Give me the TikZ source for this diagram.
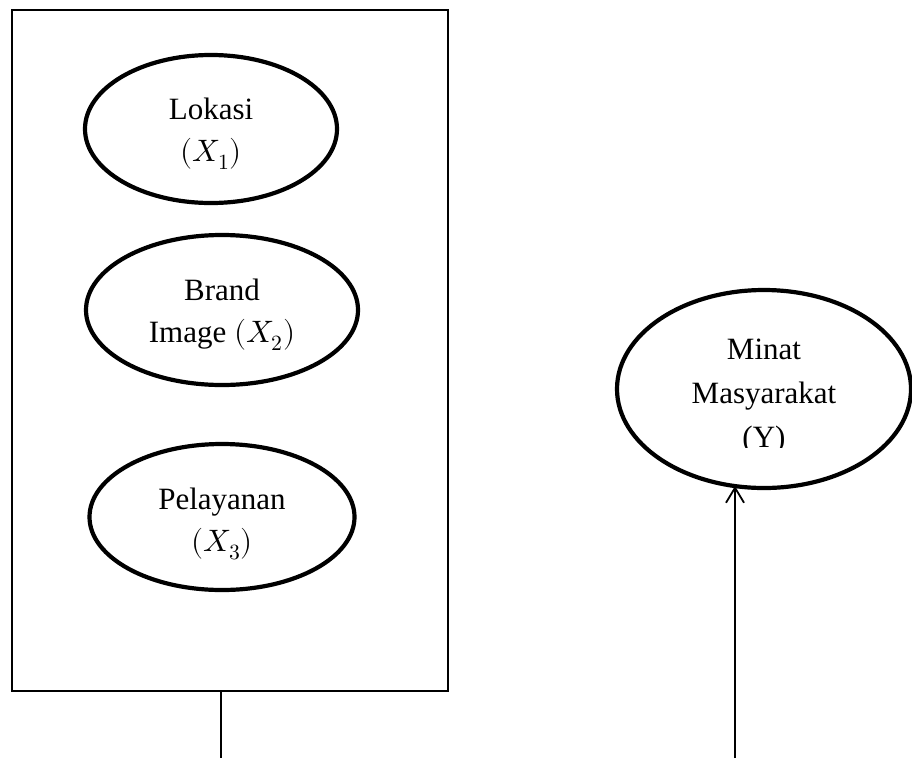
\documentclass[tikz,border=0pt]{standalone}
\usepackage{fontspec}
\usepackage{unicode-math}
\setmainfont{Liberation Serif}
\usetikzlibrary{shapes.geometric,arrows.meta}
\begin{document}
\begin{tikzpicture}[x=1pt,y=-1pt,
  var/.style={ellipse,draw,line width=4.2pt,inner sep=0pt},
  txt/.style={align=center,font=\fontsize{31}{42}\selectfont,inner sep=0pt},
  frame/.style={draw,line width=1.8pt,inner sep=0pt},
  conn/.style={line width=1.8pt}]
\useasboundingbox (0,0) rectangle (912,758);
\node[frame,minimum width=436pt,minimum height=681pt] (box) at (230,350.5) {};
\node[var,minimum width=252pt,minimum height=148pt] (x1) at (211,129) {};
\node[txt] (t1) at (211,134) {Lokasi\\$(X_1)$};
\node[var,minimum width=272pt,minimum height=150pt] (x2) at (222,310) {};
\node[txt] (t2) at (222,315) {Brand\\Image $(X_2)$};
\node[var,minimum width=265pt,minimum height=146pt] (x3) at (222,517) {};
\node[txt] (t3) at (222,524) {Pelayanan\\$(X_3)$};
\node[var,minimum width=294pt,minimum height=198pt] (y) at (764,389) {};
\begin{scope}
\clip (600,290) rectangle (912,447);
\node[txt,font=\fontsize{31}{44}\selectfont] (ty) at (764,396.5) {Minat\\Masyarakat\\(Y)};
\end{scope}
\coordinate (a1) at (221,691);
\coordinate (a2) at (221,758);
\draw[conn] (a1) -- (a2);
\coordinate (b1) at (735,758);
\coordinate (b2) at (735,486);
\draw[conn,-{Straight Barb[length=15pt,width=18pt,line width=1.8pt]}] (b1) -- (b2);
\end{tikzpicture}
\end{document}
